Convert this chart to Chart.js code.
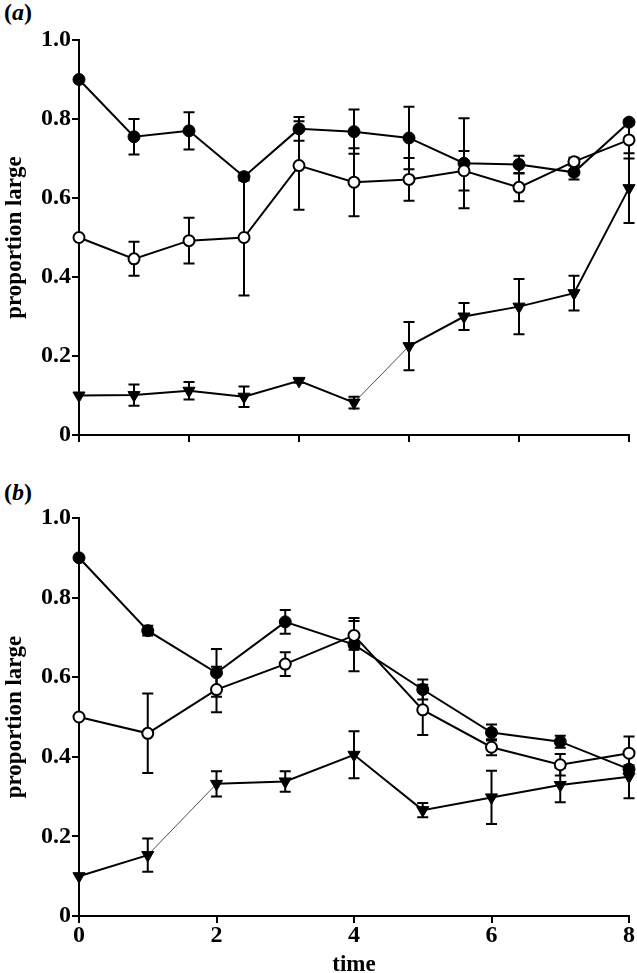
<!DOCTYPE html>
<html><head><meta charset="utf-8">
<script src="https://cdn.jsdelivr.net/npm/chart.js@4/dist/chart.umd.min.js"></script>
<style>
html,body{margin:0;padding:0;background:#fff;width:637px;height:973px;overflow:hidden;}
.panel{position:absolute;left:0;width:637px;}
.lab{position:absolute;font-family:"Liberation Serif","Times New Roman",serif;font-size:24px;font-weight:bold;color:#000;line-height:1;}
</style></head><body>
<div class="lab" style="left:4px;top:0px">(<i>a</i>)</div>
<div class="panel" style="top:0;height:460px"><canvas id="ca" width="637" height="460"></canvas></div>
<div class="lab" style="left:4px;top:480px">(<i>b</i>)</div>
<div class="panel" style="top:470px;height:503px"><canvas id="cb" width="637" height="503"></canvas></div>
<script>
// ---------- panel (a) ----------
const timeA = [0, 0.8, 1.6, 2.4, 3.2, 4, 4.8, 5.6, 6.4, 7.2, 8];
const aFilled    = [0.90, 0.755, 0.770, 0.654, 0.775, 0.768, 0.752, 0.688, 0.685, 0.665, 0.792];
const aFilledErr = [0, 0.045, 0.047, 0.010, 0.030, 0.056, 0.079, 0.114, 0.022, 0.018, 0.006];
const aOpen      = [0.50, 0.446, 0.492, 0.500, 0.682, 0.640, 0.647, 0.669, 0.627, 0.692, 0.747];
const aOpenErr   = [0, 0.043, 0.058, 0.147, 0.112, 0.086, 0.054, 0.050, 0.035, 0.010, 0.047];
const aTri       = [0.10, 0.101, 0.112, 0.097, 0.137, 0.082, 0.225, 0.300, 0.325, 0.359, 0.625];
const aTriErr    = [0, 0.027, 0.022, 0.026, 0.005, 0.015, 0.061, 0.034, 0.070, 0.044, 0.088];
const xTicksA = [0, 1.6, 3.2, 4.8, 6.4, 8];
const xTickLabelsA = ['', '', '', '', '', ''];
const thinSegA = 5;   // triangle segment drawn as hairline (start index)

// ---------- panel (b) ----------
const timeB = [0, 1, 2, 3, 4, 5, 6, 7, 8];
const bFilled    = [0.90, 0.717, 0.611, 0.739, 0.682, 0.569, 0.461, 0.438, 0.369];
const bFilledErr = [0, 0.012, 0.060, 0.030, 0.067, 0.025, 0.020, 0.015, 0.010];
const bOpen      = [0.50, 0.459, 0.569, 0.633, 0.705, 0.518, 0.424, 0.380, 0.409];
const bOpenErr   = [0, 0.100, 0.057, 0.030, 0.036, 0.063, 0.020, 0.027, 0.042];
const bTri       = [0.10, 0.153, 0.332, 0.338, 0.405, 0.266, 0.298, 0.329, 0.350];
const bTriErr    = [0, 0.042, 0.032, 0.026, 0.059, 0.018, 0.067, 0.043, 0.054];
const xTicksB = [0, 2, 4, 6, 8];
const xTickLabelsB = ['0', '2', '4', '6', '8'];
const thinSegB = 1;

// ---------- shared ----------
const yTicks = [0, 0.2, 0.4, 0.6, 0.8, 1.0];
const yTickLabels = ['0', '0.2', '0.4', '0.6', '0.8', '1.0'];
const yTitle = 'proportion large';
const xTitle = 'time';

const FONT = '"Liberation Serif", "Times New Roman", serif';

const errorBars = {
  id: 'errorBars',
  beforeDatasetsDraw(chart) {
    const ctx = chart.ctx, xs = chart.scales.x, ys = chart.scales.y;
    ctx.save();
    ctx.strokeStyle = '#000';
    ctx.lineWidth = 2;
    chart.data.datasets.forEach(ds => {
      const err = ds.errs;
      if (!err) return;
      ds.data.forEach((p, i) => {
        const e = err[i];
        if (!e) return;
        const px = xs.getPixelForValue(p.x);
        const y1 = ys.getPixelForValue(p.y + e);
        const y2 = ys.getPixelForValue(p.y - e);
        ctx.beginPath();
        ctx.moveTo(px, y1); ctx.lineTo(px, y2);
        ctx.moveTo(px - 5.5, y1); ctx.lineTo(px + 5.5, y1);
        ctx.moveTo(px - 5.5, y2); ctx.lineTo(px + 5.5, y2);
        ctx.stroke();
      });
    });
    ctx.restore();
  }
};

function pts(t, v) { return t.map((x, i) => ({ x: x, y: v[i] })); }

function makeChart(id, t, filled, filledErr, open, openErr, tri, triErr, xTicks, xLabels, thinSeg, cfg) {
  const ctx = document.getElementById(id);
  return new Chart(ctx, {
    type: 'line',
    data: {
      datasets: [
        { data: pts(t, filled), errs: filledErr, borderColor: '#000', borderWidth: 2,
          pointStyle: 'circle', pointRadius: 6, pointBackgroundColor: '#000', pointBorderColor: '#000',
          pointBorderWidth: 1, clip: false, tension: 0, order: 2 },
        { data: pts(t, open), errs: openErr, borderColor: '#000', borderWidth: 2,
          pointStyle: 'circle', pointRadius: 5.5, pointBackgroundColor: '#fff', pointBorderColor: '#000',
          pointBorderWidth: 2, clip: false, tension: 0, order: 1 },
        { data: pts(t, tri), errs: triErr, borderColor: '#000', borderWidth: 2,
          pointStyle: 'triangle', rotation: 180, pointRadius: 7, pointBackgroundColor: '#000', pointBorderColor: '#000',
          pointBorderWidth: 1, clip: false, tension: 0, order: 3,
          segment: { borderWidth: c => (c.p0DataIndex === thinSeg ? 0.7 : 2) } }
      ]
    },
    options: {
      responsive: false,
      animation: false,
      devicePixelRatio: 1,
      layout: { padding: { top: cfg.padTop, right: 7, left: 0, bottom: 0 } },
      plugins: { legend: { display: false }, tooltip: { enabled: false } },
      scales: {
        x: {
          type: 'linear', min: 0, max: 8,
          afterBuildTicks: s => { s.ticks = xTicks.map(v => ({ value: v })); },
          ticks: { display: cfg.showX, autoSkip: false, maxRotation: 0, padding: -2, color: '#000',
                   font: { family: FONT, size: 24, weight: 'bold' }, callback: (v, i) => xLabels[i] },
          grid: { drawOnChartArea: false, drawTicks: true, tickLength: 7, lineWidth: 2, color: '#000' },
          border: { display: true, color: '#000', width: 2 },
          title: { display: cfg.showX, text: xTitle, color: '#000', font: { family: FONT, size: 23, weight: 'bold' },
                   padding: { top: 0, bottom: -6 } },
          afterFit: s => { s.height = cfg.xHeight; }
        },
        y: {
          type: 'linear', min: 0, max: 1,
          afterBuildTicks: s => { s.ticks = yTicks.map(v => ({ value: v })); },
          ticks: { padding: 1, color: '#000', font: { family: FONT, size: 24, weight: 'bold' },
                   callback: (v, i) => yTickLabels[i] },
          grid: { drawOnChartArea: false, drawTicks: true, tickLength: 7, lineWidth: 2, color: '#000' },
          border: { display: true, color: '#000', width: 2 },
          title: { display: true, text: yTitle, color: '#000', font: { family: FONT, size: 23, weight: 'bold' },
                   padding: { top: 1, bottom: 0 } },
          afterFit: s => { s.width = 79; }
        }
      }
    },
    plugins: [errorBars]
  });
}

makeChart('ca', timeA, aFilled, aFilledErr, aOpen, aOpenErr, aTri, aTriErr, xTicksA, xTickLabelsA, thinSegA,
          { padTop: 40, xHeight: 25, showX: false });
makeChart('cb', timeB, bFilled, bFilledErr, bOpen, bOpenErr, bTri, bTriErr, xTicksB, xTickLabelsB, thinSegB,
          { padTop: 48, xHeight: 57, showX: true });
</script>
</body></html>
